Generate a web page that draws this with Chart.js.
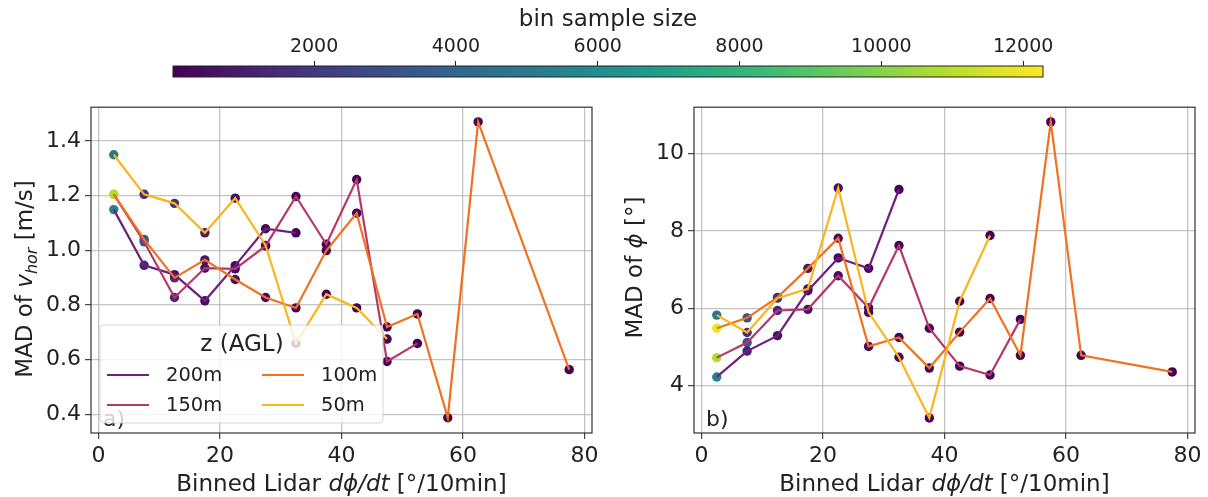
<!DOCTYPE html>
<html>
<head>
<meta charset="utf-8">
<script src="https://cdn.jsdelivr.net/npm/chart.js@4.4.0/dist/chart.umd.min.js"></script>
<style>
  body { margin: 0; background: #fff; width: 1208px; height: 497px; position: relative; overflow: hidden; }
  canvas { position: absolute; }
</style>
</head>
<body>
<canvas id="cbar" width="1208" height="90" style="left:0;top:0"></canvas>
<canvas id="leftChart" width="604" height="407" style="left:0;top:90px"></canvas>
<canvas id="rightChart" width="604" height="407" style="left:604px;top:90px"></canvas>
<script>
// bin centres of the lidar d(phi)/dt bins
const bins = [2.5, 7.5, 12.5, 17.5, 22.5, 27.5, 32.5, 37.5, 42.5, 47.5, 52.5, 57.5, 62.5, 67.5, 72.5, 77.5];
const heights = ['200m', '150m', '100m', '50m'];
const lineColors = ['#701f80', '#b6376a', '#f1711f', '#fbb41a'];

// MAD of v_hor [m/s]
const vhor200 = [1.149, 0.945, 0.911, 0.815, 0.944, 1.079, 1.064];
const vhor150 = [1.205, 1.031, 0.827, 0.935, 0.932, 1.016, 1.197, 1.022, 1.259, 0.593, 0.659];
const vhor100 = [1.205, 1.040, 0.899, 0.965, 0.893, 0.827, 0.789, 0.999, 1.136, 0.719, 0.767, 0.387, 1.470, null, null, 0.563];
const vhor50 = [1.350, 1.205, 1.172, 1.064, 1.191, 1.018, 0.659, 0.839, 0.789, 0.675];

// MAD of phi [deg]
const phi200 = [4.22, 4.89, 5.29, 6.45, 7.30, 7.03, 9.07];
const phi150 = [4.72, 5.11, 5.94, 5.97, 6.84, 6.01, 7.62, 5.48, 4.50, 4.27, 5.71];
const phi100 = [5.48, 5.75, 6.28, 7.03, 7.81, 5.01, 5.24, 4.45, 5.38, 6.25, 4.78, 10.82, 4.78, null, null, 4.35];
const phi50 = [5.82, 5.37, 6.26, 6.50, 9.11, 5.89, 4.73, 3.16, 6.18, 7.88];

// bin sample size (marker colour)
const n200 = [5500, 1200, 700, 500, 300, 200, 150];
const n150 = [10800, 3200, 1400, 600, 400, 300, 200, 150, 100, 80, 60];
const n100 = [11900, 3050, 1800, 800, 500, 350, 250, 200, 150, 120, 100, 80, 60, null, null, 40];
const n50 = [4900, 1700, 1800, 900, 500, 400, 300, 200, 150, 100];

const xTicks = [0, 20, 40, 60, 80];
const vhorTicks = [0.4, 0.6, 0.8, 1.0, 1.2, 1.4];
const phiTicks = [4, 6, 8, 10];
const cbTicks = [2000, 4000, 6000, 8000, 10000, 12000];
const cbMin = 10, cbMax = 12280;

Chart.defaults.font.family = "'DejaVu Sans', sans-serif";
Chart.defaults.color = '#222';
Chart.defaults.animation = false;

const viridisStops = ['#440154', '#482878', '#3e4989', '#31688e', '#26828e', '#1f9e89', '#35b779', '#6ece58', '#b5de2b', '#fde725'];
function hexRgb(h) {
  return [parseInt(h.slice(1, 3), 16), parseInt(h.slice(3, 5), 16), parseInt(h.slice(5, 7), 16)];
}
function viridis(t) {
  t = Math.max(0, Math.min(1, t));
  const n = viridisStops.length - 1;
  const i = Math.min(n - 1, Math.floor(t * n));
  const f = t * n - i;
  const a = hexRgb(viridisStops[i]), b = hexRgb(viridisStops[i + 1]);
  const c = a.map((v, k) => Math.round(v + (b[k] - v) * f));
  return 'rgb(' + c.join(',') + ')';
}
function sizeColor(n) {
  return viridis((n - cbMin) / (cbMax - cbMin));
}

function points(vals) {
  const out = [];
  vals.forEach((v, i) => { if (v !== null) out.push({ x: bins[i], y: v }); });
  return out;
}

function buildDatasets(series, sizes) {
  const lines = series.map((vals, k) => ({
    type: 'line',
    label: heights[k],
    data: points(vals),
    borderColor: lineColors[k],
    borderWidth: 2.2,
    pointRadius: 0,
    tension: 0,
    fill: false,
    order: 4 - k
  }));
  const marks = series.map((vals, k) => ({
    type: 'scatter',
    label: heights[k] + ' n',
    data: points(vals),
    pointRadius: 4.7,
    pointBorderWidth: 0,
    pointBackgroundColor: sizes[k].filter(v => v !== null).map(sizeColor),
    showLine: false,
    order: 10
  }));
  return marks.concat(lines);
}

function drawRich(ctx, parts, cx, cy, rot, size) {
  ctx.save();
  ctx.translate(cx, cy);
  if (rot) ctx.rotate(rot);
  let w = 0;
  parts.forEach(p => {
    p.font = (p.italic ? 'italic ' : '') + Math.round(p.sub ? size * 0.7 : size) + "px 'DejaVu Sans'";
    ctx.font = p.font;
    p.w = ctx.measureText(p.t).width;
    w += p.w;
  });
  let x = -w / 2;
  ctx.fillStyle = '#222';
  ctx.textBaseline = 'alphabetic';
  parts.forEach(p => {
    ctx.font = p.font;
    ctx.fillText(p.t, x, size * 0.365 + (p.sub ? size * 0.22 : 0));
    x += p.w;
  });
  ctx.restore();
}

const xTitle = [{ t: 'Binned Lidar ' }, { t: 'd\u03d5/dt', italic: true }, { t: ' [\u00b0/10min]' }];

const framePlugin = {
  id: 'frame',
  afterDatasetsDraw(chart, args, opts) {
    const ctx = chart.ctx, a = chart.chartArea;
    ctx.save();
    ctx.font = "22px 'DejaVu Sans'";
    ctx.fillStyle = '#222';
    ctx.textBaseline = 'alphabetic';
    ctx.fillText(opts.tag, a.left + 12, a.bottom - 7);
    ctx.strokeStyle = '#333';
    ctx.lineWidth = 1.2;
    ctx.strokeRect(a.left, a.top, a.right - a.left, a.bottom - a.top);
    ctx.restore();
    drawRich(ctx, xTitle, (a.left + a.right) / 2, a.bottom + 50, 0, 23);
    drawRich(ctx, opts.yTitle, opts.yTitleX, opts.yTitleY, -Math.PI / 2, 23);
  }
};

const legendPlugin = {
  id: 'zLegend',
  afterDraw(chart) {
    const ctx = chart.ctx, a = chart.chartArea;
    const bx = a.left + 9, by = a.bottom - 108, bw = 283, bh = 98;
    ctx.save();
    ctx.beginPath();
    ctx.roundRect(bx, by, bw, bh, 4);
    ctx.fillStyle = 'rgba(255,255,255,0.8)';
    ctx.fill();
    ctx.strokeStyle = 'rgba(204,204,204,0.8)';
    ctx.lineWidth = 1;
    ctx.stroke();
    ctx.fillStyle = '#222';
    ctx.font = "23px 'DejaVu Sans'";
    ctx.textAlign = 'center';
    ctx.textBaseline = 'middle';
    ctx.fillText('z (AGL)', bx + 142, by + 20);
    ctx.textAlign = 'left';
    ctx.font = "19.5px 'DejaVu Sans'";
    heights.forEach((h, k) => {
      const col = Math.floor(k / 2), row = k % 2;
      const lx = bx + (col === 0 ? 7 : 162);
      const ly = by + 50 + row * 30;
      ctx.strokeStyle = lineColors[k];
      ctx.lineWidth = 2.2;
      ctx.beginPath();
      ctx.moveTo(lx, ly);
      ctx.lineTo(lx + 42, ly);
      ctx.stroke();
      ctx.fillText(h, lx + 59, ly + 1);
    });
    ctx.restore();
  }
};

function axis(min, max, ticks, fmt, fit) {
  return {
    type: 'linear',
    min: min,
    max: max,
    afterBuildTicks: s => { s.ticks = ticks.map(v => ({ value: v })); },
    afterFit: fit,
    grid: { color: 'rgba(176,176,176,0.75)', lineWidth: 1.3, tickColor: '#333', tickLength: 6, tickWidth: 1.1 },
    border: { display: false },
    ticks: { font: { size: 22 }, color: '#222', padding: 4, autoSkip: false, maxRotation: 0, callback: fmt }
  };
}

function panel(id, series, sizes, yMin, yMax, yTicks, yFmt, yAxisW, rightPad, opts) {
  new Chart(document.getElementById(id), {
    type: 'scatter',
    data: { datasets: buildDatasets(series, sizes) },
    options: {
      responsive: false,
      events: [],
      layout: { padding: { top: 12, right: rightPad, bottom: 24, left: 0 } },
      scales: {
        x: axis(-1.25, 81.25, xTicks, v => String(v), s => { s.height = 40; }),
        y: axis(yMin, yMax, yTicks, yFmt, s => { s.width = yAxisW; })
      },
      plugins: { legend: { display: false }, tooltip: { enabled: false }, frame: opts }
    },
    plugins: opts.legend ? [framePlugin, legendPlugin] : [framePlugin]
  });
}

panel('leftChart', [vhor200, vhor150, vhor100, vhor50], [n200, n150, n100, n50],
  0.331, 1.524, vhorTicks, v => v.toFixed(1), 91, 12,
  { tag: 'a)', legend: true, yTitleX: 24, yTitleY: 189,
    yTitle: [{ t: 'MAD of ' }, { t: 'v', italic: true }, { t: 'hor', italic: true, sub: true }, { t: ' [m/s]' }] });

panel('rightChart', [phi200, phi150, phi100, phi50], [n200, n150, n100, n50],
  2.77, 11.2, phiTicks, v => String(v), 90, 13,
  { tag: 'b)', legend: false, yTitleX: 30, yTitleY: 177.5,
    yTitle: [{ t: 'MAD of ' }, { t: '\u03d5', italic: true }, { t: ' [\u00b0]' }] });

// colour bar on top
const cbarPlugin = {
  id: 'cbarFill',
  beforeDatasetsDraw(chart) {
    const ctx = chart.ctx, a = chart.chartArea;
    const g = ctx.createLinearGradient(a.left, 0, a.right, 0);
    for (let i = 0; i <= 40; i++) g.addColorStop(i / 40, viridis(i / 40));
    ctx.save();
    ctx.fillStyle = g;
    ctx.fillRect(a.left, a.top, a.right - a.left, a.bottom - a.top);
    ctx.strokeStyle = '#222';
    ctx.lineWidth = 1;
    ctx.strokeRect(a.left, a.top, a.right - a.left, a.bottom - a.top);
    ctx.restore();
  }
};

new Chart(document.getElementById('cbar'), {
  type: 'scatter',
  data: { datasets: [] },
  options: {
    responsive: false,
    events: [],
    layout: { padding: { top: 0, right: 165, bottom: 13, left: 173 } },
    scales: {
      x: {
        type: 'linear',
        position: 'top',
        min: cbMin,
        max: cbMax,
        afterBuildTicks: s => { s.ticks = cbTicks.map(v => ({ value: v })); },
        afterFit: s => { s.height = 66; },
        grid: { drawOnChartArea: false, tickColor: '#222', tickLength: 5, tickWidth: 1 },
        border: { display: false },
        ticks: { font: { size: 19 }, color: '#222', padding: 3, maxRotation: 0, autoSkip: false, callback: v => String(v) },
        title: { display: true, text: 'bin sample size', font: { size: 23 }, color: '#222', padding: { top: 6, bottom: 0 } }
      },
      y: { display: false, min: 0, max: 1 }
    },
    plugins: { legend: { display: false }, tooltip: { enabled: false } }
  },
  plugins: [cbarPlugin]
});
</script>
</body>
</html>
